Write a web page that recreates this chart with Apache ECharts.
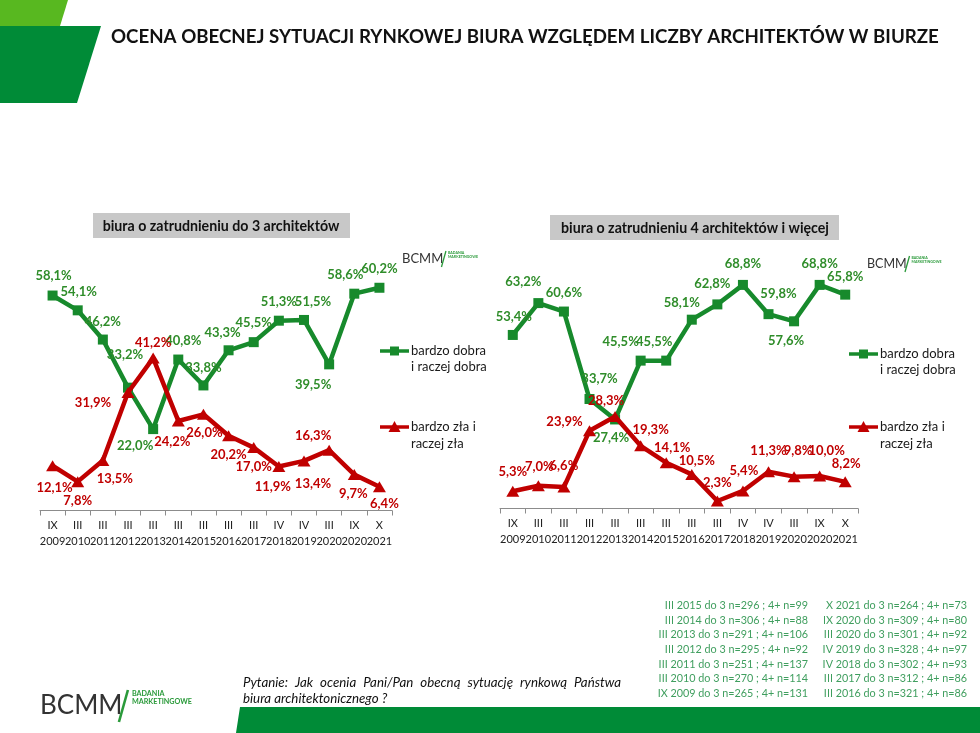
<!DOCTYPE html>
<html>
<head>
<meta charset="utf-8">
<script src="https://cdn.jsdelivr.net/npm/echarts@6/dist/echarts.min.js"></script>
<style>
html,body{margin:0;padding:0;background:#fff;}
#chart{width:980px;height:733px;}
</style>
</head>
<body>
<div id="chart"></div>
<script>
// ---- data ----
var months = ['IX','III','III','III','III','III','III','III','III','IV','IV','III','IX','X'];
var years  = ['2009','2010','2011','2012','2013','2014','2015','2016','2017','2018','2019','2020','2020','2021'];

var small_good = [58.1, 54.1, 46.2, 33.2, 22.0, 40.8, 33.8, 43.3, 45.5, 51.3, 51.5, 39.5, 58.6, 60.2];
var small_bad  = [12.1, 7.8, 13.5, 31.9, 41.2, 24.2, 26.0, 20.2, 17.0, 11.9, 13.4, 16.3, 9.7, 6.4];
var large_good = [53.4, 63.2, 60.6, 33.7, 27.4, 45.5, 45.5, 58.1, 62.8, 68.8, 59.8, 57.6, 68.8, 65.8];
var large_bad  = [5.3, 7.0, 6.6, 23.9, 28.3, 19.3, 14.1, 10.5, 2.3, 5.4, 11.3, 9.8, 10.0, 8.2];

var seriesNames = ['bardzo dobra i raczej dobra', 'bardzo zła i raczej zła'];

var notesLeft = [
  'III 2015 do 3 n=296 ; 4+ n=99',
  'III 2014 do 3 n=306 ; 4+ n=88',
  'III 2013 do 3 n=291 ; 4+ n=106',
  'III 2012 do 3 n=295 ; 4+ n=92',
  'III 2011 do 3 n=251 ; 4+ n=137',
  'III 2010 do 3 n=270 ; 4+ n=114',
  'IX 2009 do 3 n=265 ; 4+ n=131'
];
var notesRight = [
  'X 2021 do 3 n=264 ; 4+ n=73',
  'IX 2020 do 3 n=309 ; 4+ n=80',
  'III 2020 do 3 n=301 ; 4+ n=92',
  'IV 2019 do 3 n=328 ; 4+ n=97',
  'IV 2018 do 3 n=302 ; 4+ n=93',
  'III 2017 do 3 n=312 ; 4+ n=86',
  'III 2016 do 3 n=321 ; 4+ n=86'
];

// ---- label placement (offsets from point centre, px) ----
var offSmallGood = [[1,-20],[1,-19],[0,-18],[-3,-33],[-18,17],[5,-19],[0,-18],[-6,-17],[0,-19],[0,-19],[9,-18],[-16,20],[-9,-19],[0,-19]];
var offSmallBad  = [[2,22],[0,19],[12,18],[-35,10],[0,-15],[-6,21],[1,19],[0,19],[0,19],[-6,20],[9,23],[-16,-14],[-1,19],[5,17]];
var offLargeGood = [[1,-18],[-15,-21],[0,-19],[10,-20],[-4,18],[-20,-19],[-12,-19],[-10,-17],[-5,-21],[0,-21],[10,-20],[-8,20],[0,-21],[0,-18]];
var offLargeBad  = [[0,-19],[1,-19],[0,-21],[-25,-9],[-9,-16],[10,-16],[6,-15],[5,-14],[0,-18],[1,-20],[0,-21],[4,-26],[7,-25],[1,-18]];

var GREEN = '#178a2c', GREEN_LBL = '#2f8d2a', RED = '#c00000';
var FONT = 'Lato, "Noto Sans", sans-serif';

var cats = months.map(function(m, i){ return m + '\n' + years[i]; });

function mk(values, offs){
  return values.map(function(v, i){
    return { value: v, label: { offset: offs[i] } };
  });
}
function fmt(p){ return p.value.toFixed(1).replace('.', ',') + '%'; }

function lineSeries(name, values, offs, idx, isGood){
  return {
    name: name,
    type: 'line',
    xAxisIndex: idx, yAxisIndex: idx,
    data: mk(values, offs),
    symbol: isGood ? 'rect' : 'triangle',
    symbolSize: isGood ? 10 : [13, 11],
    showAllSymbol: true,
    lineStyle: { color: isGood ? GREEN : RED, width: 4.5 },
    itemStyle: { color: isGood ? GREEN : RED },
    label: {
      show: true, position: 'inside', formatter: fmt,
      color: isGood ? GREEN_LBL : RED,
      fontFamily: FONT, fontWeight: 'bold', fontSize: 13,
      align: 'center', verticalAlign: 'middle'
    },
    emphasis: { disabled: true },
    animation: false,
    z: isGood ? 2 : 3
  };
}

function xAxis(idx){
  return {
    type: 'category', gridIndex: idx, data: cats, boundaryGap: true,
    axisLine: { lineStyle: { color: '#8c8c8c', width: 1 } },
    axisTick: { show: true, length: 5, lineStyle: { color: '#8c8c8c' } },
    axisLabel: { interval: 0, margin: 7, color: '#222', fontFamily: FONT, fontSize: 11, lineHeight: 16 }
  };
}
function yAxis(idx){
  return { type: 'value', gridIndex: idx, min: 0, max: 70, show: false, splitLine: { show: false } };
}

function legendGroup(x, yGood, yBad){
  var els = [];
  els.push({ type: 'line', shape: { x1: x, y1: yGood, x2: x + 29, y2: yGood }, style: { stroke: GREEN, lineWidth: 3.5 } });
  els.push({ type: 'rect', shape: { x: x + 10, y: yGood - 4.5, width: 9, height: 9 }, style: { fill: GREEN } });
  els.push({ type: 'text', x: x + 31, y: yGood, style: { text: 'bardzo dobra', font: '13px ' + FONT, fill: '#1a1a1a', verticalAlign: 'middle' } });
  els.push({ type: 'text', x: x + 31, y: yGood + 16, style: { text: 'i raczej dobra', font: '13px ' + FONT, fill: '#1a1a1a', verticalAlign: 'middle' } });
  els.push({ type: 'line', shape: { x1: x, y1: yBad, x2: x + 29, y2: yBad }, style: { stroke: RED, lineWidth: 3.5 } });
  els.push({ type: 'polygon', shape: { points: [[x + 8.5, yBad + 5], [x + 20.5, yBad + 5], [x + 14.5, yBad - 6]] }, style: { fill: RED } });
  els.push({ type: 'text', x: x + 31, y: yBad, style: { text: 'bardzo zła i', font: '13px ' + FONT, fill: '#1a1a1a', verticalAlign: 'middle' } });
  els.push({ type: 'text', x: x + 31, y: yBad + 17, style: { text: 'raczej zła', font: '13px ' + FONT, fill: '#1a1a1a', verticalAlign: 'middle' } });
  return els;
}

function logo(x, y, fs, s){
  // fs = font size of "BCMM", s = scale for the rest
  var w = fs * 2.92;
  return [
    { type: 'text', x: x, y: y, style: { text: 'BCMM', font: fs + 'px ' + FONT, fill: '#333', verticalAlign: 'middle' } },
    { type: 'line', shape: { x1: x + w + 1.5 * s, y1: y + 8 * s, x2: x + w + 6 * s, y2: y - 8 * s }, style: { stroke: '#2a9a3a', lineWidth: 1.3 * s } },
    { type: 'text', x: x + w + 8 * s, y: y - 6 * s, style: { text: 'BADANIA', font: 'bold ' + (3.6 * s) + 'px ' + FONT, fill: '#2a9a3a', verticalAlign: 'middle' } },
    { type: 'text', x: x + w + 8 * s, y: y - 2 * s, style: { text: 'MARKETINGOWE', font: 'bold ' + (3.6 * s) + 'px ' + FONT, fill: '#2a9a3a', verticalAlign: 'middle' } }
  ];
}

// justified first line of the question
var measureCtx = document.createElement('canvas').getContext('2d');
function justifiedLine(text, x, y, width, font){
  measureCtx.font = font;
  var words = text.split(' ');
  var total = 0;
  var widths = words.map(function(w){ var m = measureCtx.measureText(w).width; total += m; return m; });
  var gap = (width - total) / (words.length - 1);
  var els = [], cx = x;
  words.forEach(function(w, i){
    els.push({ type: 'text', x: cx, y: y, style: { text: w, font: font, fill: '#111', verticalAlign: 'middle' } });
    cx += widths[i] + gap;
  });
  return els;
}

var QFONT = 'italic 13.3px ' + FONT;
var graphics = [
  { type: 'polygon', shape: { points: [[0,0],[68,0],[60,26],[0,26]] }, style: { fill: '#58b820' } },
  { type: 'polygon', shape: { points: [[0,26],[101,26],[77,103],[0,103]] }, style: { fill: '#008b37' } },
  { type: 'polygon', shape: { points: [[240,707],[980,707],[980,733],[236,733]] }, style: { fill: '#008b37' } },
  { type: 'text', x: 111, y: 37, style: { text: 'OCENA OBECNEJ SYTUACJI RYNKOWEJ BIURA WZGLĘDEM LICZBY ARCHITEKTÓW W BIURZE', font: 'bold 18.7px ' + FONT, fill: '#111', verticalAlign: 'middle' } },
  { type: 'rect', shape: { x: 93, y: 213, width: 257, height: 25 }, style: { fill: '#c8c8c8' } },
  { type: 'text', x: 221, y: 226, style: { text: 'biura o zatrudnieniu do 3 architektów', font: 'bold 14.2px ' + FONT, fill: '#111', align: 'center', verticalAlign: 'middle' } },
  { type: 'rect', shape: { x: 550, y: 215, width: 289, height: 25 }, style: { fill: '#c8c8c8' } },
  { type: 'text', x: 695, y: 228, style: { text: 'biura o zatrudnieniu 4 architektów i więcej', font: 'bold 14.2px ' + FONT, fill: '#111', align: 'center', verticalAlign: 'middle' } },
  { type: 'text', x: 243, y: 699, style: { text: 'biura architektonicznego ?', font: QFONT, fill: '#111', verticalAlign: 'middle' } }
];
graphics = graphics.concat(justifiedLine('Pytanie: Jak ocenia Pani/Pan obecną sytuację rynkową Państwa', 243, 683, 378, QFONT));
graphics = graphics.concat(legendGroup(380, 351, 427));
graphics = graphics.concat(legendGroup(849, 354, 427));
graphics = graphics.concat(logo(402, 259, 13, 1));
graphics = graphics.concat(logo(867, 264, 12.5, 1));
graphics = graphics.concat(logo(40, 706, 26, 2));
notesLeft.forEach(function(t, i){
  graphics.push({ type: 'text', x: 808, y: 605.5 + i * 14.7, style: { text: t, font: '10.8px ' + FONT, fill: '#3f9e5e', align: 'right', verticalAlign: 'middle' } });
});
notesRight.forEach(function(t, i){
  graphics.push({ type: 'text', x: 967, y: 605.5 + i * 14.7, style: { text: t, font: '10.8px ' + FONT, fill: '#3f9e5e', align: 'right', verticalAlign: 'middle' } });
});

var chart = echarts.init(document.getElementById('chart'), null, { renderer: 'canvas' });
chart.setOption({
  backgroundColor: '#fff',
  animation: false,
  grid: [
    { left: 40, width: 352, top: 251.5, height: 259 },
    { left: 500, width: 358, top: 281, height: 227.5 }
  ],
  xAxis: [xAxis(0), xAxis(1)],
  yAxis: [yAxis(0), yAxis(1)],
  series: [
    lineSeries(seriesNames[0], small_good, offSmallGood, 0, true),
    lineSeries(seriesNames[1], small_bad, offSmallBad, 0, false),
    lineSeries(seriesNames[0], large_good, offLargeGood, 1, true),
    lineSeries(seriesNames[1], large_bad, offLargeBad, 1, false)
  ],
  graphic: graphics
});
</script>
</body>
</html>
